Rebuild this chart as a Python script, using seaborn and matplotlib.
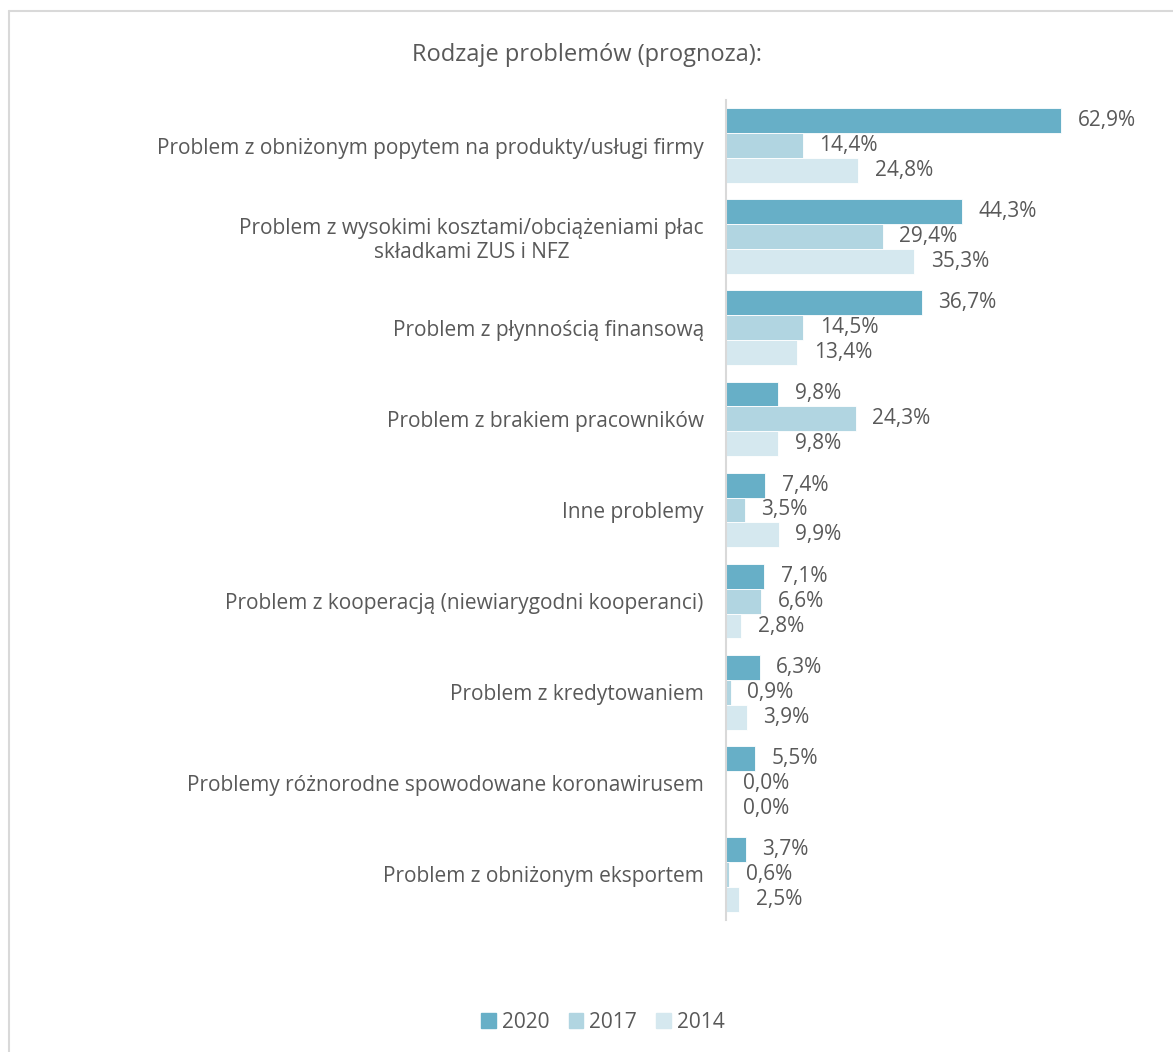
import matplotlib
matplotlib.use("Agg")
import matplotlib.pyplot as plt
from matplotlib.lines import Line2D
import seaborn as sns
import pandas as pd

categories = [
    "Problem z obniżonym popytem na produkty/usługi firmy",
    "Problem z wysokimi kosztami/obciążeniami płac\nskładkami ZUS i NFZ",
    "Problem z płynnością finansową",
    "Problem z brakiem pracowników",
    "Inne problemy",
    "Problem z kooperacją (niewiarygodni kooperanci)",
    "Problem z kredytowaniem",
    "Problemy różnorodne spowodowane koronawirusem",
    "Problem z obniżonym eksportem",
]
years = ["2020", "2017", "2014"]
values_2020 = [62.9, 44.3, 36.7, 9.8, 7.4, 7.1, 6.3, 5.5, 3.7]
values_2017 = [14.4, 29.4, 14.5, 24.3, 3.5, 6.6, 0.9, 0.0, 0.6]
values_2014 = [24.8, 35.3, 13.4, 9.8, 9.9, 2.8, 3.9, 0.0, 2.5]
colors = ["#67AFC7", "#B1D5E1", "#D5E8EF"]

df = pd.DataFrame({
    "kategoria": categories * 3,
    "rok": [y for y in years for _ in categories],
    "wartosc": values_2020 + values_2017 + values_2014,
})

sns.set_theme(style="white")
plt.rcParams["font.family"] = ["Open Sans", "DejaVu Sans"]
text_color = "#595959"

W, H = 1173, 1052
fig = plt.figure(figsize=(W / 100, H / 100), dpi=100)
ax_left, ax_right = 726 / W, 1126 / W
ax_top, ax_bottom = 1 - 100 / H, 1 - 920 / H
ax = fig.add_axes([ax_left, ax_bottom, ax_right - ax_left, ax_top - ax_bottom])

sns.barplot(data=df, y="kategoria", x="wartosc", hue="rok", hue_order=years,
            order=categories, palette=colors, orient="h", width=0.82,
            ax=ax, legend=False, saturation=1, edgecolor="white", linewidth=0.6)

ax.set_xlim(0, 75)
ax.set_ylim(len(categories) - 0.5, -0.5)
ax.set_xlabel("")
ax.set_ylabel("")
ax.set_xticks([])
for s in ["top", "right", "bottom"]:
    ax.spines[s].set_visible(False)
ax.spines["left"].set_color("#D9D9D9")
ax.spines["left"].set_linewidth(1.5)
ax.tick_params(axis="y", length=0, pad=16, labelsize=15, labelcolor=text_color)
for lbl in ax.get_yticklabels():
    lbl.set_horizontalalignment("right")
    lbl.set_multialignment("center")

for container in ax.containers:
    labels = [f"{v:.1f}%".replace(".", ",") for v in container.datavalues]
    ax.bar_label(container, labels=labels, padding=12, fontsize=15, color=text_color)

fig.text(0.5, 1 - 55 / H, "Rodzaje problemów (prognoza):", ha="center", va="center",
         fontsize=17, color=text_color)

handles = [plt.Rectangle((0, 0), 1, 1, color=c) for c in colors]
fig.legend(handles, years, loc="center", bbox_to_anchor=(603 / W, 1 - 1022 / H), ncol=3,
           frameon=False, fontsize=15, labelcolor=text_color, handlelength=0.7,
           handleheight=0.7, handletextpad=0.3, columnspacing=0.9)

# outer frame
fig.add_artist(Line2D([8.5 / W, 8.5 / W], [0, 1 - 10.5 / H], transform=fig.transFigure,
                      color="#D9D9D9", linewidth=1.5))
fig.add_artist(Line2D([8.5 / W, 1], [1 - 10.5 / H, 1 - 10.5 / H], transform=fig.transFigure,
                      color="#D9D9D9", linewidth=1.5))

fig.savefig("out.png", dpi=100, facecolor="white")
